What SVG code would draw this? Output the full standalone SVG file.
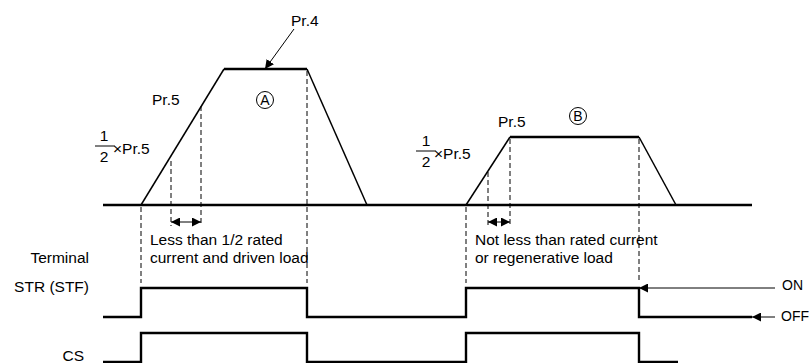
<svg xmlns="http://www.w3.org/2000/svg" width="812" height="363" viewBox="0 0 812 363">
<defs>
<style>
text{font-family:"Liberation Sans",Arial,sans-serif;fill:#000}
.t{font-size:15.5px}
.s{font-size:14px}
.o{font-size:14px}
.thick{stroke:#000;stroke-width:2.4;fill:none}
.slope{stroke:#000;stroke-width:1.5;fill:none}
.dash{stroke:#000;stroke-width:1;stroke-dasharray:5,3;fill:none}
.thin{stroke:#000;stroke-width:1;fill:none}
.circ{stroke:#000;stroke-width:1;fill:none}
</style>
<marker id="ah" viewBox="0 0 10 10" refX="10" refY="5" markerWidth="9" markerHeight="9" markerUnits="userSpaceOnUse" orient="auto-start-reverse">
<path d="M0,0 L10,5 L0,10 z" fill="#000"/>
</marker>
</defs>
<rect width="812" height="363" fill="#fff"/>

<g id="speed-axis">
<line class="thick" x1="103" y1="205" x2="752" y2="205"/>
</g>

<g id="trapezoid-A">
<polyline class="slope" points="141,205 224,69"/>
<line class="thick" x1="224" y1="69" x2="307" y2="69"/>
<polyline class="slope" points="307,69 367,205"/>
</g>

<g id="trapezoid-B">
<polyline class="slope" points="466,205 510,137"/>
<line class="thick" x1="510" y1="137" x2="639" y2="137"/>
<polyline class="slope" points="639,137 676,205"/>
</g>

<g id="guides">
<line class="dash" x1="141" y1="207" x2="141" y2="283"/>
<line class="dash" x1="171" y1="161" x2="171" y2="226"/>
<line class="dash" x1="201" y1="106" x2="201" y2="226"/>
<line class="dash" x1="307" y1="71" x2="307" y2="283"/>
<line class="dash" x1="466" y1="207" x2="466" y2="283"/>
<line class="dash" x1="488" y1="172" x2="488" y2="226"/>
<line class="dash" x1="510" y1="139" x2="510" y2="226"/>
<line class="dash" x1="639" y1="139" x2="639" y2="283"/>
</g>

<g id="connectors">
<line class="thin" x1="294" y1="29" x2="265" y2="69" marker-end="url(#ah)"/>
<line class="thin" x1="171" y1="222" x2="201" y2="222" marker-start="url(#ah)" marker-end="url(#ah)"/>
<line class="thin" x1="488" y1="222" x2="510" y2="222" marker-start="url(#ah)" marker-end="url(#ah)"/>
<line class="thin" x1="775" y1="288" x2="639" y2="288" marker-end="url(#ah)"/>
<line class="thin" x1="775" y1="317" x2="752" y2="317" marker-end="url(#ah)"/>
</g>

<g id="label-pr4"><text class="t" x="291" y="26">Pr.4</text></g>
<g id="label-pr5-A"><text class="t" x="152" y="105">Pr.5</text></g>
<g id="label-pr5-B"><text class="t" x="498" y="127">Pr.5</text></g>

<g id="fraction-A">
<text class="t" x="104" y="141" text-anchor="middle">1</text>
<line class="thin" x1="95" y1="146" x2="115" y2="146"/>
<text class="t" x="104" y="162" text-anchor="middle">2</text>
<text class="t" x="113" y="154">×Pr.5</text>
</g>

<g id="fraction-B">
<text class="t" x="426" y="146" text-anchor="middle">1</text>
<line class="thin" x1="416" y1="151" x2="436" y2="151"/>
<text class="t" x="426" y="167" text-anchor="middle">2</text>
<text class="t" x="434" y="159">×Pr.5</text>
</g>

<g id="circle-A">
<circle class="circ" cx="265" cy="100" r="8.5"/>
<text class="s" x="265" y="105" text-anchor="middle">A</text>
</g>
<g id="circle-B">
<circle class="circ" cx="578" cy="116" r="8.5"/>
<text class="s" x="578" y="121" text-anchor="middle">B</text>
</g>

<g id="note-A">
<text class="t" x="150" y="245">Less than 1/2 rated</text>
<text class="t" x="150" y="263">current and driven load</text>
</g>
<g id="note-B">
<text class="t" x="475" y="245">Not less than rated current</text>
<text class="t" x="475" y="263">or regenerative load</text>
</g>

<g id="label-terminal">
<text class="t" x="89" y="263" text-anchor="end">Terminal</text>
<text class="t" x="89" y="292" text-anchor="end">STR (STF)</text>
</g>

<g id="signal-STR">
<polyline class="thick" points="103,317 141,317 141,288 307,288 307,317 466,317 466,288 639,288 639,317 752,317"/>
</g>

<g id="signal-CS">
<text class="t" x="84" y="361" text-anchor="end">CS</text>
<polyline class="thick" points="103,362 141,362 141,333 307,333 307,362 466,362 466,333 639,333 639,362 678,362"/>
</g>

<g id="label-on-off">
<text class="o" x="782" y="290">ON</text>
<text class="o" x="781" y="321">OFF</text>
</g>
</svg>
